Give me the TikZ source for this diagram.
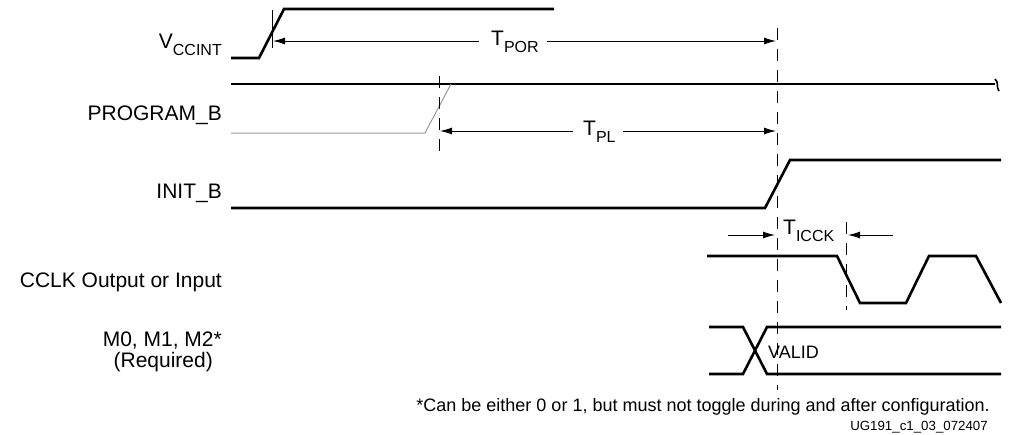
\documentclass[tikz,border=0pt]{standalone}
\usepackage{fontspec}
\setmainfont{Liberation Sans}
\usetikzlibrary{arrows.meta}
\newcommand\lsub[1]{\raisebox{-7pt}{\fontsize{16}{16}\selectfont #1}}
\tikzset{
  sig/.style={line width=2.6pt, line join=miter},
  grsig/.style={line width=1pt, draw=black!40},
  guide/.style={line width=1pt, dash pattern=on 12pt off 9pt},
  dim/.style={line width=1pt, -{Latex[length=12pt,width=7pt]}},
  lbl/.style={font=\fontsize{21}{24}\selectfont, inner sep=0pt},
  small/.style={font=\fontsize{18}{20}\selectfont, inner sep=0pt},
  tiny/.style={font=\fontsize{13.3}{15}\selectfont, inner sep=0pt},
}
\begin{document}
\begin{tikzpicture}[x=1pt,y=-1pt]
\useasboundingbox (0,0) rectangle (1009,434);
% labels
\node[lbl, anchor=base east] (lv) at (222,48) {V\lsub{CCINT}};
\node[lbl, anchor=base east] (lp) at (222,120) {PROGRAM\_B};
\node[lbl, anchor=base east] (li) at (222,198) {INIT\_B};
\node[lbl, anchor=base east] (lc) at (222,287) {CCLK Output or Input};
\node[lbl, anchor=base east] (lm) at (222,346) {M0, M1, M2*};
\node[lbl, anchor=base east] (lr) at (213,367) {(Required)};
% VCCINT
\draw[sig] (231,58) -- (259,58) -- (284,9) -- (554,9);
\draw[line width=1pt] (272,10) -- (272,48);
% PROGRAM_B
\draw[sig] (231,84) -- (995,84);
\draw[line width=1.6pt] (995,79) .. controls (999,82) and (996,88) .. (999,91);
\draw[grsig] (231,133) -- (425,133) -- (451,84);
% INIT_B
\draw[sig] (231,208) -- (765,208) -- (790,160) -- (1001,160);
% CCLK
\draw[sig] (707,256) -- (837,256) -- (860,303) -- (906,303) -- (929,256) -- (976,256) -- (1001,303);
% M0 M1 M2
\draw[sig] (709,327) -- (743,327) -- (767,374) -- (1001,374);
\draw[sig] (709,374) -- (743,374) -- (767,327) -- (1001,327);
\node[small, anchor=base west] (valid) at (768,358) {VALID};
% guides
\draw[guide] (439,76) -- (439,153);
\draw[guide] (777,28) -- (777,390);
\draw[guide] (846,222) -- (846,310);
% TPOR
\node[lbl, anchor=base west] (tpor) at (491,45) {T\lsub{POR}};
\coordinate (porL) at (273,41);
\coordinate (porR) at (776,41);
\draw[dim] (tpor.west |- porL) ++(-12,0) -- (porL);
\draw[dim] (tpor.east |- porR) ++(8,0) -- (porR);
% TPL
\node[lbl, anchor=base west] (tpl) at (583,135) {T\lsub{PL}};
\coordinate (plL) at (440,131);
\coordinate (plR) at (776,131);
\draw[dim] (tpl.west |- plL) ++(-10,0) -- (plL);
\draw[dim] (tpl.east |- plR) ++(7,0) -- (plR);
% TICCK
\node[lbl, anchor=base west] (ticck) at (783,234) {T\lsub{ICCK}};
\coordinate (icL) at (775,235);
\coordinate (icR) at (848,235);
\draw[dim] (728,235) -- (icL);
\draw[dim] (893,235) -- (icR);
% footnotes
\node[small, anchor=base east] (fn) at (990,411) {*Can be either 0 or 1, but must not toggle during and after configuration.};
\node[tiny, anchor=base east] (ug) at (988,430) {UG191\_c1\_03\_072407};
\end{tikzpicture}
\end{document}
